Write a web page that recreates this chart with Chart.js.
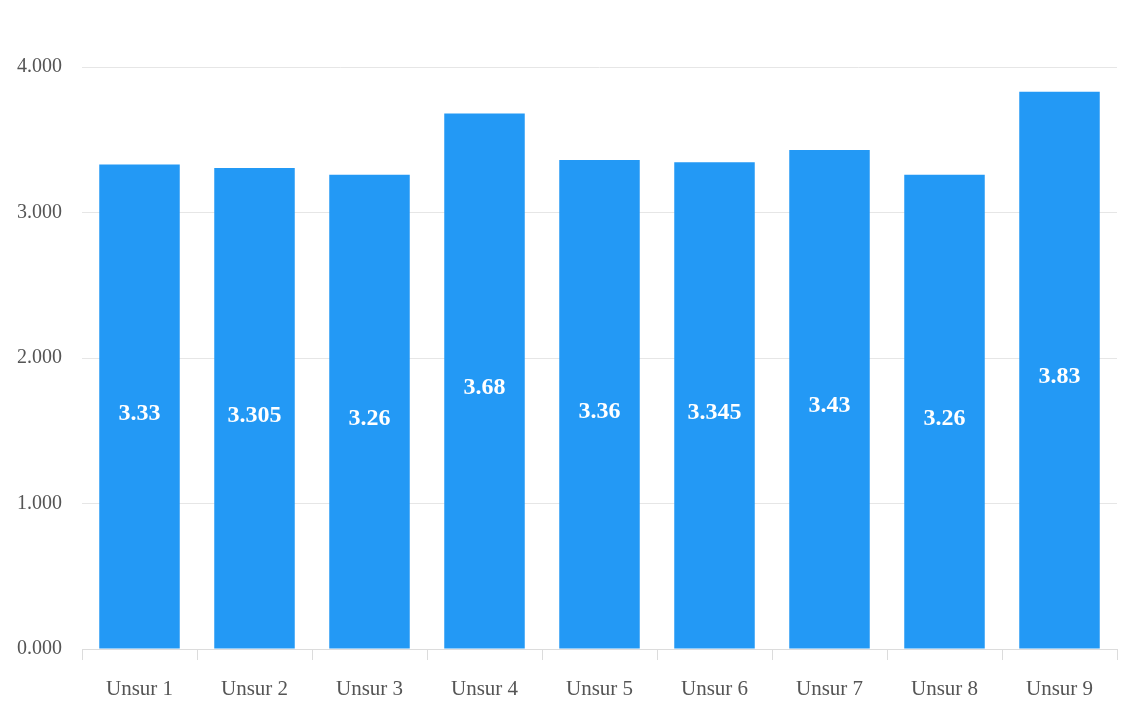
<!DOCTYPE html>
<html lang="tr">
<head>
<meta charset="UTF-8">
<title>Unsur</title>
<script src="https://cdn.jsdelivr.net/npm/chart.js"></script>
<style>
  body, html {
    margin: 0;
    background: #fff;
  }
  .wrap {
    position: relative;
    width: 1132px;
    height: 724px;
  }
</style>
</head>
<body>
<div class="wrap">
  <canvas id="myChart"></canvas>
</div>
<script>
// data
var categories = ['Unsur 1', 'Unsur 2', 'Unsur 3', 'Unsur 4', 'Unsur 5', 'Unsur 6', 'Unsur 7', 'Unsur 8', 'Unsur 9'];
var scores = [3.33, 3.305, 3.26, 3.68, 3.36, 3.345, 3.43, 3.26, 3.83];
var yTicks = [0, 1, 2, 3, 4];

var serif = '"Liberation Serif", "Times New Roman", serif';

// white value in the middle of each bar
var barLabels = {
  id: 'barLabels',
  afterDatasetsDraw: function(chart) {
    var ctx = chart.ctx;
    var meta = chart.getDatasetMeta(0);
    ctx.save();
    ctx.fillStyle = '#fff';
    ctx.font = 'bold 24px ' + serif;
    ctx.textAlign = 'center';
    ctx.textBaseline = 'middle';
    meta.data.forEach(function(bar, i) {
      var mid = (bar.y + bar.base) / 2;
      ctx.fillText(String(scores[i]), bar.x, mid + 7);
    });
    ctx.restore();
  }
};

var ctx = document.getElementById('myChart').getContext('2d');
var myChart = new Chart(ctx, {
  type: 'bar',
  data: {
    labels: categories,
    datasets: [{
      data: scores,
      backgroundColor: '#2399f5',
      borderWidth: 0,
      categoryPercentage: 0.7,
      barPercentage: 1
    }]
  },
  options: {
    responsive: true,
    maintainAspectRatio: false,
    animation: false,
    layout: {
      padding: { top: 67, right: 15, left: 0, bottom: 0 }
    },
    plugins: {
      legend: { display: false },
      tooltip: { enabled: false }
    },
    scales: {
      x: {
        grid: {
          drawOnChartArea: false,
          drawTicks: true,
          tickLength: 11,
          color: '#dcdcdc'
        },
        border: { display: true, color: '#dcdcdc' },
        ticks: {
          color: '#555',
          padding: 17,
          font: { family: serif, size: 21 }
        },
        afterFit: function(scale) { scale.height = 75; }
      },
      y: {
        min: 0,
        max: yTicks[yTicks.length - 1],
        afterBuildTicks: function(scale) {
          scale.ticks = yTicks.map(function(v) { return { value: v }; });
        },
        grid: {
          drawTicks: false,
          color: '#e6e6e6'
        },
        border: { display: false },
        ticks: {
          color: '#555',
          padding: 20,
          font: { family: serif, size: 20 },
          callback: function(v) { return Number(v).toFixed(3); }
        },
        afterFit: function(scale) { scale.width = 82; }
      }
    }
  },
  plugins: [barLabels]
});
</script>
</body>
</html>
